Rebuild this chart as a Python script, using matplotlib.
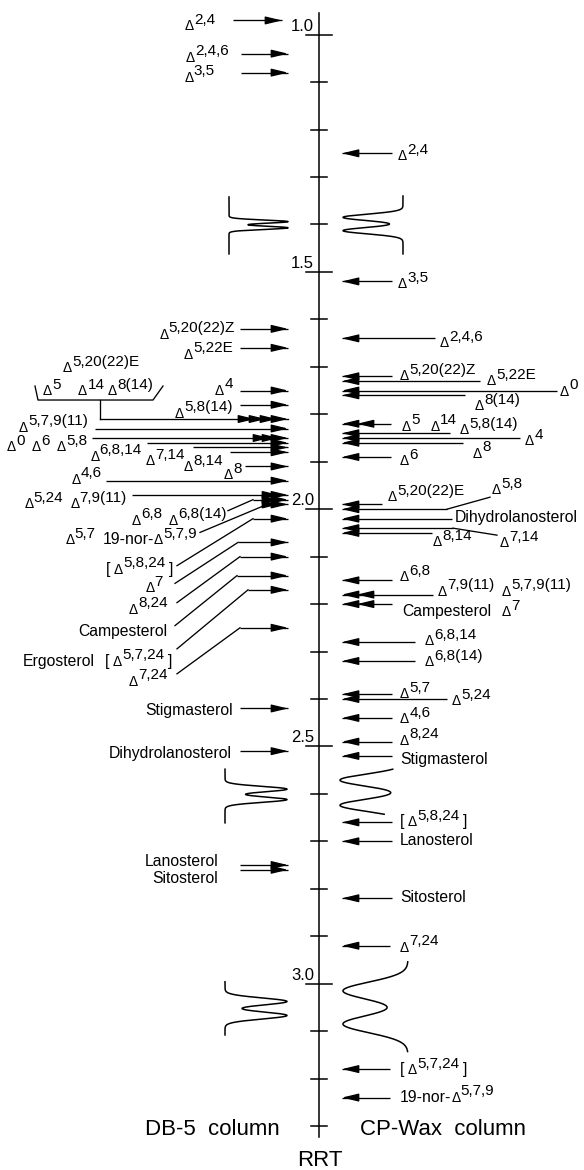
import re
import numpy as np
import matplotlib
matplotlib.use("Agg")
import matplotlib.pyplot as plt

plt.rcParams["font.family"] = ["Liberation Sans", "DejaVu Sans"]

# ---------------------------------------------------------------------------
# Relative retention times (RRT) of the sterols on the DB-5 column (left)
# ---------------------------------------------------------------------------
db5_labels = [
    "Δ^{2,4}", "Δ^{2,4,6}", "Δ^{3,5}", "Δ^{5,20(22)Z}", "Δ^{5,22E}", "Δ^{4}",
    "Δ^{5,8(14)}", "Δ^{5,7,9(11)}", "Δ^{0}  Δ^{6}  Δ^{5,8}", "Δ^{6,8,14}",
    "Δ^{7,14}", "Δ^{8,14}", "Δ^{8}", "Δ^{4,6}", "Δ^{5,24}  Δ^{7,9(11)}",
    "Δ^{6,8}  Δ^{6,8(14)}", "Δ^{5,7}  19-nor-Δ^{5,7,9}", "[ Δ^{5,8,24} ]",
    "Δ^{7}", "Δ^{8,24}", "Campesterol", "Ergosterol   [ Δ^{5,7,24} ]",
    "Δ^{7,24}", "Stigmasterol", "Dihydrolanosterol", "Lanosterol", "Sitosterol",
]
db5_rrt = [
    0.97, 1.04, 1.08, 1.62, 1.66, 1.75, 1.78, 1.83, 1.85, 1.86, 1.87, 1.88,
    1.91, 1.94, 1.97, 1.98, 1.99, 2.02, 2.07, 2.10, 2.14, 2.17, 2.25, 2.42,
    2.51, 2.75, 2.76,
]
# four sterols co-eluting on DB-5, joined by a bracket
db5_group_labels = ["Δ^{5,20(22)E}", "Δ^{5}", "Δ^{14}", "Δ^{8(14)}"]
db5_group_rrt = 1.81

# ---------------------------------------------------------------------------
# Relative retention times on the CP-Wax column (right)
# ---------------------------------------------------------------------------
wax_labels = [
    "Δ^{2,4}", "Δ^{3,5}", "Δ^{2,4,6}", "Δ^{5,20(22)Z}", "Δ^{5,22E}", "Δ^{0}",
    "Δ^{8(14)}", "Δ^{5}   Δ^{14}", "Δ^{5,8(14)}", "Δ^{4}", "Δ^{8}", "Δ^{6}",
    "Δ^{5,20(22)E}", "Δ^{5,8}", "Dihydrolanosterol", "Δ^{7,14}", "Δ^{8,14}",
    "Δ^{6,8}", "Δ^{7,9(11)}  Δ^{5,7,9(11)}", "Campesterol   Δ^{7}",
    "Δ^{6,8,14}", "Δ^{6,8(14)}", "Δ^{5,7}", "Δ^{5,24}", "Δ^{4,6}", "Δ^{8,24}",
    "Stigmasterol", "[ Δ^{5,8,24} ]", "Lanosterol", "Sitosterol", "Δ^{7,24}",
    "[ Δ^{5,7,24} ]", "19-nor-Δ^{5,7,9}",
]
wax_rrt = [
    1.25, 1.52, 1.64, 1.72, 1.73, 1.75, 1.76, 1.82, 1.84, 1.85, 1.86, 1.89,
    1.99, 2.00, 2.02, 2.04, 2.05, 2.15, 2.18, 2.20, 2.28, 2.32, 2.39, 2.40,
    2.44, 2.49, 2.52, 2.66, 2.70, 2.82, 2.92, 3.18, 3.24,
]

# Example peak pairs sketched beside each column (RRT of peak maxima)
db5_peak_centers = [[1.394, 1.407], [2.590, 2.612], [3.0375, 3.067]]
db5_peak_sigma = [0.0034, 0.0058, 0.0074]
db5_peak_span = [(1.342, 1.462), (2.548, 2.661), (2.996, 3.108)]
wax_peak_centers = [[1.385, 1.413], [2.571, 2.624], [3.015, 3.085]]
wax_peak_sigma = [0.0067, 0.0126, 0.0183]
wax_peak_span = [(1.340, 1.462), (2.548, 2.643), (2.954, 3.143)]

# RRT scale
tick_values = np.round(np.arange(1.0, 3.31, 0.1), 1)
major_ticks = [1.0, 1.5, 2.0, 2.5, 3.0]
axis_range = (0.954, 3.323)

# ---------------------------------------------------------------------------
# Layout (x in pixels across the figure, vertical offsets in pixels)
# ---------------------------------------------------------------------------
W, H = 584, 1170
PX = 474.5                    # pixels per RRT unit
Y_TOP = 2.2167 - 612 / PX     # RRT at the top edge of the figure
AXIS_X = 318.5

db5_tip = [282] + [288] * 26
db5_tail = [233, 241, 241, 240, 240, 240, 240, 95, 92, 147, 193, 230, 245,
            106, 132, 253, 267, 253, 238, 240, 237, 248, 240, 240, 240, 240, 240]
db5_text_x = [215, 229, 215, 235, 233, 233, 233, 88, 87, 142, 185, 223, 242,
              102, 127, 227, 197, 173, 163, 168, 167, 172, 168, 233, 232, 218, 218]
db5_text_dy = [10, 8, 9, 10, 11, 4, 13, 3, 13, 18, 18, 19, 13, 3, 13, 25, 40,
               55, 50, 57, 60, 76, 58, 7, 7, 1, 13]
db5_heads = [1, 1, 1, 1, 1, 1, 1, 1, 3, 1, 1, 1, 1, 1, 2, 2, 2,
             1, 1, 1, 1, 1, 1, 1, 1, 1, 1]
# slanted leader lines: index -> (x at label end, vertical offset there)
db5_leader = {15: (228, 11), 16: (200, 28), 17: (177, 47), 18: (175, 41),
              19: (177, 46), 20: (175, 50), 21: (177, 59), 22: (177, 46)}
group_text = [(63, -47), (43, -24), (78, -24), (108, -24)]
group_bracket = [(35, -33), (38, -19), (153, -19), (163, -33)]
group_stem_x = 100
group_tips = [255, 266, 277, 288]

wax_tip = 342
wax_tail = [392, 392, 435, 392, 480, 557, 465, 391, 450, 520, 463, 391, 382,
            447, 452, 453, 432, 392, 433, 392, 415, 415, 392, 447, 392, 392,
            392, 392, 392, 392, 390, 390, 390]
wax_text_x = [398, 398, 440, 400, 487, 560, 475, 402, 460, 525, 473, 400, 388,
              492, 455, 500, 433, 400, 438, 402, 425, 425, 400, 452, 400, 400,
              400, 400, 400, 400, 400, 400, 400]
wax_text_dy = [7, 7, 9, 4, 4, 5, 15, 7, 1, 7, 15, 8, -3, -15, 3, 19, 13, 1, 1,
               12, 3, 5, 4, 6, 5, 3, 8, 4, 4, 4, 6, 5, 4]
wax_heads = [1] * 33
wax_heads[7] = wax_heads[18] = wax_heads[19] = 2
wax_leader = {13: (490, -12), 15: (497, 7)}

db5_peak_base, db5_peak_height = [229, 225, 225], [59, 62, 62]
wax_peak_base, wax_peak_height = [403, 405, 408], [60, 65, 65]

TEXT_PT, DELTA_PT, SUP_PT, SUP_RISE, SPACE_PT = 11.3, 10, 11, 4.6, 2.5
LW = 0.95


def off(px):
    """Vertical pixel offset expressed in RRT units (downwards positive)."""
    return px / PX


def py(px):
    return Y_TOP + px / PX


HEAD = dict(arrowstyle="-|>,head_length=0.5,head_width=0.12",
            mutation_scale=20, lw=LW, color="black", shrinkA=0, shrinkB=0)


def arrow(ax, x_from, x_to, y, heads=1, spacing=10):
    ax.plot([x_from, x_to], [y, y], color="black", lw=LW,
            solid_capstyle="butt")
    d = np.sign(x_to - x_from)
    for k in range(heads):
        tip = x_to - d * k * spacing
        ax.annotate("", xy=(tip, y), xytext=(tip - d * 15, y),
                    arrowprops=HEAD)


TOKENS = re.compile(r"Δ|\^\{[^}]*\}| +|[^Δ^ ]+")


def parse(spec):
    items, gap = [], 0.0
    for tok in TOKENS.findall(spec):
        if tok.strip() == "":
            gap += SPACE_PT * len(tok)
        elif tok == "Δ":
            items.append((tok, DELTA_PT, 0.0, gap))
            gap = 0.0
        elif tok.startswith("^{"):
            items.append((tok[2:-1], SUP_PT, SUP_RISE, gap + 0.2))
            gap = 0.0
        else:
            items.append((tok, TEXT_PT, 0.0, gap))
            gap = 0.0
    return items


def rich_text(ax, x, y, spec, ha="left"):
    """Draw a label with small Δ glyphs and raised locants, baseline at y."""
    items = parse(spec)
    kw = dict(textcoords="offset points", va="baseline", color="black")
    if ha == "left":
        prev = None
        for text, size, rise, gap in items:
            if prev is None:
                prev = ax.annotate(text, xy=(x, y), xytext=(0, rise),
                                   ha="left", fontsize=size, **kw)
            else:
                prev = ax.annotate(text, xy=(1, y), xycoords=(prev, "data"),
                                   xytext=(gap, rise), ha="left",
                                   fontsize=size, **kw)
    else:
        nxt, gap_after = None, 0.0
        for text, size, rise, gap in reversed(items):
            if nxt is None:
                nxt = ax.annotate(text, xy=(x, y), xytext=(0, rise),
                                  ha="right", fontsize=size, **kw)
            else:
                nxt = ax.annotate(text, xy=(0, y), xycoords=(nxt, "data"),
                                  xytext=(-gap_after, rise), ha="right",
                                  fontsize=size, **kw)
            gap_after = gap


def peak_trace(ax, base, sign, centers, sigma, height, span):
    y = np.linspace(span[0], span[1], 900)
    x = base + sign * height * sum(
        np.exp(-0.5 * ((y - c) / sigma) ** 2) for c in centers)
    ax.plot(x, y, color="black", lw=1.1)


fig = plt.figure(figsize=(W / 100, H / 100), dpi=100)
ax = fig.add_axes([0, 0, 1, 1])
ax.set_xlim(0, W)
ax.set_ylim(Y_TOP + H / PX, Y_TOP)
ax.axis("off")

# RRT axis
ax.plot([AXIS_X, AXIS_X], axis_range, color="black", lw=1.1)
for v in tick_values:
    major = any(abs(v - m) < 1e-6 for m in major_ticks)
    x0, x1 = (306, 332) if major else (311, 327)
    ax.plot([x0, x1], [v, v], color="black", lw=1.1)
for m in major_ticks:
    ax.text(314, m - off(4), f"{m:.1f}", ha="right", va="baseline",
            fontsize=12)

# DB-5 column
for i, (lab, v) in enumerate(zip(db5_labels, db5_rrt)):
    arrow(ax, db5_tail[i], db5_tip[i], v, db5_heads[i], spacing=9)
    if i in db5_leader:
        xs, dys = db5_leader[i]
        ax.plot([xs, db5_tail[i]], [v + off(dys), v], color="black", lw=LW)
    rich_text(ax, db5_text_x[i], v + off(db5_text_dy[i]), lab, ha="right")

g = db5_group_rrt
bx, bdy = zip(*group_bracket)
ax.plot(bx, [g + off(d) for d in bdy], color="black", lw=LW)
ax.plot([group_stem_x, group_stem_x], [g + off(-19), g], color="black", lw=LW)
ax.plot([group_stem_x, group_tips[-1]], [g, g], color="black", lw=LW)
for tip in group_tips:
    ax.annotate("", xy=(tip, g), xytext=(tip - 15, g), arrowprops=HEAD)
for lab, (tx, tdy) in zip(db5_group_labels, group_text):
    rich_text(ax, tx, g + off(tdy), lab, ha="left")

# CP-Wax column
for i, (lab, v) in enumerate(zip(wax_labels, wax_rrt)):
    arrow(ax, wax_tail[i], wax_tip, v, wax_heads[i], spacing=15)
    if i in wax_leader:
        xs, dys = wax_leader[i]
        ax.plot([wax_tail[i], xs], [v, v + off(dys)], color="black", lw=LW)
    rich_text(ax, wax_text_x[i], v + off(wax_text_dy[i]), lab, ha="left")

# sketched peak pairs
for c, s, sp, b, h in zip(db5_peak_centers, db5_peak_sigma, db5_peak_span,
                          db5_peak_base, db5_peak_height):
    peak_trace(ax, b, +1, c, s, h, sp)
for c, s, sp, b, h in zip(wax_peak_centers, wax_peak_sigma, wax_peak_span,
                          wax_peak_base, wax_peak_height):
    peak_trace(ax, b, -1, c, s, h, sp)

# column names and axis title
ax.text(280, py(1135), "DB-5  column", ha="right", va="baseline", fontsize=16)
ax.text(360, py(1135), "CP-Wax  column", ha="left", va="baseline", fontsize=16)
ax.text(320, py(1166), "RRT", ha="center", va="baseline", fontsize=16)

fig.savefig("out.png", dpi=100, facecolor="white")
